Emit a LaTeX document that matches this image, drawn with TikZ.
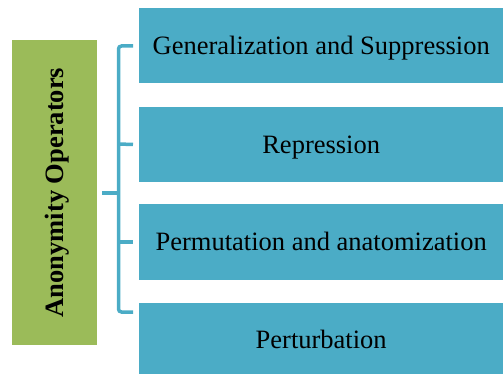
\documentclass[tikz,border=0pt]{standalone}
\usepackage{fontspec}
\setmainfont{Liberation Serif}
\definecolor{opblue}{HTML}{4BACC6}
\definecolor{opgreen}{HTML}{9BBB59}
\begin{document}
\begin{tikzpicture}[x=1pt,y=-1pt,
  boxtext/.style={inner sep=0pt,text height=17.5pt,text depth=0pt,font=\fontsize{26.5}{30}\selectfont},
  leaf/.style={boxtext,fill=opblue,draw=none,minimum width=364pt,minimum height=75pt,anchor=west},
  root/.style={boxtext,fill=opgreen,draw=none,minimum width=305pt,minimum height=85pt,rotate=90,font=\bfseries\fontsize{26.5}{30}\selectfont},
  brace/.style={draw=opblue,line width=3.5pt}]
\useasboundingbox (0,0) rectangle (503,374);
\node[root] (r) at (54.5,192.5) {Anonymity Operators};
\node[leaf] (a) at (139,46) {Generalization and Suppression};
\node[leaf] (b) at (139,144.5) {Repression};
\node[leaf] (c) at (139,242) {Permutation and anatomization};
\node[leaf] (d) at (139,340) {Perturbation};
\coordinate (top) at (118.5,46);
\coordinate (bot) at (118.5,312);
\coordinate (mid) at (118.5,193);
\draw[brace,rounded corners=3pt] (a.west -| 133,0) -- (top) -- (bot) -- (133,312);
\draw[brace] (r.south |- mid) ++(5,0) -- (mid);
\draw[brace] (118.5,144) -- (b.west -| 133,0);
\draw[brace] (118.5,242) -- (c.west -| 133,0);
\end{tikzpicture}
\end{document}
